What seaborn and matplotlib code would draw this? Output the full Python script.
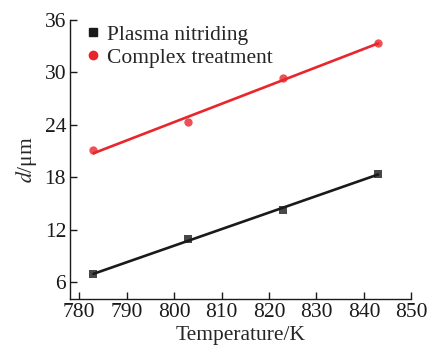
import numpy as np
import pandas as pd
import matplotlib
matplotlib.use("Agg")
import matplotlib.pyplot as plt
import seaborn as sns

# data
temperature = [783, 803, 823, 843]
plasma_nitriding = [6.9, 10.9, 14.3, 18.4]
complex_treatment = [21.1, 24.3, 29.3, 33.4]

x_ticks = [780, 790, 800, 810, 820, 830, 840, 850]
y_ticks = [6, 12, 18, 24, 30, 36]

df = pd.DataFrame({
    "T": temperature * 2,
    "d": plasma_nitriding + complex_treatment,
    "series": ["Plasma nitriding"] * 4 + ["Complex treatment"] * 4,
})

sns.set_theme(style="ticks")
plt.rcParams["font.family"] = ["Liberation Serif", "DejaVu Serif"]
plt.rcParams["mathtext.fontset"] = "stix"

fig, ax = plt.subplots(figsize=(4.39, 3.49), dpi=100)

colors = {"Plasma nitriding": "#1a1a1a", "Complex treatment": "#e8262b"}
markers = {"Plasma nitriding": "s", "Complex treatment": "o"}

for name in ["Plasma nitriding", "Complex treatment"]:
    sub = df[df["series"] == name]
    sns.regplot(data=sub, x="T", y="d", ci=None, truncate=True, ax=ax,
                color=colors[name], marker=markers[name],
                scatter_kws={"s": 36, "linewidths": 0, "zorder": 3},
                line_kws={"linewidth": 1.9}, label=name)

ax.set_xlim(778.1, 850)
ax.set_ylim(4.05, 36)
ax.set_xticks(x_ticks)
ax.set_yticks(y_ticks)
ax.tick_params(direction="in", length=5, width=1, labelsize=15.5, colors="#1a1a1a", pad=3)
for s in ["left", "bottom"]:
    ax.spines[s].set_linewidth(1)
    ax.spines[s].set_color("#1a1a1a")
sns.despine(ax=ax)

ax.set_xlabel("Temperature/K", fontsize=15.5, labelpad=3)
ax.set_ylabel(r"$d$/μm", fontsize=15.5, labelpad=4)

handles = [
    plt.Line2D([], [], color=colors[n], marker=markers[n], linestyle="none", markersize=6)
    for n in ["Plasma nitriding", "Complex treatment"]
]
ax.legend(handles, ["Plasma nitriding", "Complex treatment"], loc="upper left",
          frameon=False, fontsize=15.5, handletextpad=0.05, handlelength=1.2,
          borderaxespad=0.2, labelspacing=0.15, bbox_to_anchor=(-0.01, 1.03))

fig.subplots_adjust(left=0.16, right=0.937, top=0.943, bottom=0.143)
fig.savefig("out.png", dpi=100)
